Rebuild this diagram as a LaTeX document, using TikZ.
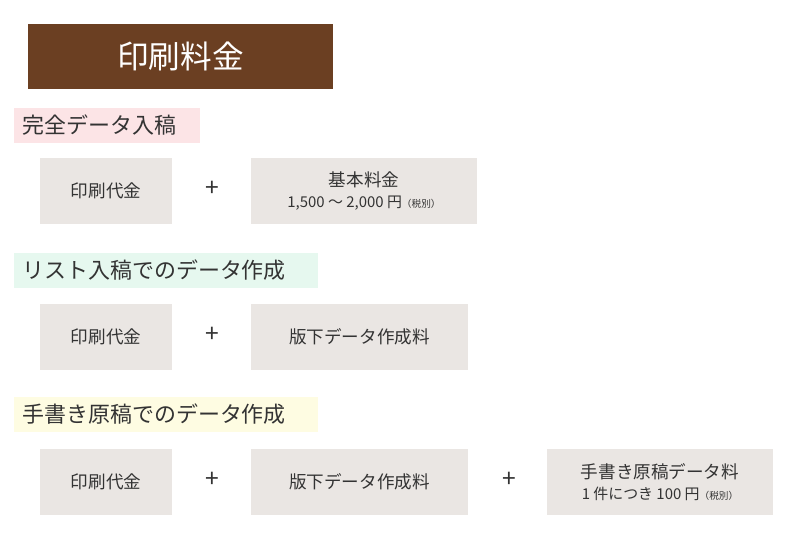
\documentclass[tikz,border=0pt]{standalone}
\usepackage{fontspec}
\setmainfont{Noto Sans CJK JP}
\usetikzlibrary{positioning}
\definecolor{titlebrown}{HTML}{6B3F22}
\definecolor{boxgray}{HTML}{EAE6E3}
\definecolor{headpink}{HTML}{FCE4E6}
\definecolor{headmint}{HTML}{E6F8EF}
\definecolor{headyellow}{HTML}{FEFCE2}
\tikzstyle{every node}=[font=\fontsize{10}{11}\selectfont, text=black!80]
\tikzstyle{pricebox}=[fill=boxgray, minimum height=1.32cm, inner sep=0pt, align=center]
\tikzstyle{heading}=[minimum height=0.7cm, inner xsep=0.16cm, inner ysep=3pt, anchor=west, align=left, font=\fontsize{12.5}{14}\selectfont]
\tikzstyle{plus}=[font=\fontsize{14}{16}\selectfont]
\newcommand{\zei}{{\fontsize{5.5}{6}\selectfont （税別）}}

\begin{document}
\begin{tikzpicture}[x=0.02cm, y=-0.02cm]
    \useasboundingbox (0,0) rectangle (797,536);
    % title
    \node[fill=titlebrown, minimum width=6.1cm, minimum height=1.3cm, text=white,
      font=\fontsize{18}{20}\selectfont] (title) at (180.5,56.5) {印刷料金};
    % headings
    \node[heading, fill=headpink, text width=3.4cm] (head1) at (14,125.5) {完全データ入稿};
    \node[heading, fill=headmint, text width=5.76cm] (head2) at (14,270.5) {リスト入稿でのデータ作成};
    \node[heading, fill=headyellow, text width=5.76cm] (head3) at (14,414.5) {手書き原稿でのデータ作成};
    % row 1
    \node[pricebox, minimum width=2.64cm] (print1) at (106,191) {印刷代金};
    \node[plus] (plus1) at (212,189) {+};
    \node[pricebox, minimum width=4.52cm] (base) at (364,191)
      {基本料金\\[1pt]{\fontsize{8.5}{9}\selectfont 1,500 ～ 2,000 円}\zei};
    % row 2
    \node[pricebox, minimum width=2.64cm] (print2) at (106,337) {印刷代金};
    \node[plus] (plus2) at (212,335) {+};
    \node[pricebox, minimum width=4.34cm] (hanshita2) at (359.5,337) {版下データ作成料};
    % row 3
    \node[pricebox, minimum width=2.64cm] (print3) at (106,482) {印刷代金};
    \node[plus] (plus3) at (212,480) {+};
    \node[pricebox, minimum width=4.34cm] (hanshita3) at (359.5,482) {版下データ作成料};
    \node[plus] (plus4) at (509,480) {+};
    \node[pricebox, minimum width=4.52cm] (hand) at (660,482)
      {手書き原稿データ料\\[1pt]{\fontsize{8.5}{9}\selectfont 1 件につき 100 円}\zei};
\end{tikzpicture}
\end{document}
